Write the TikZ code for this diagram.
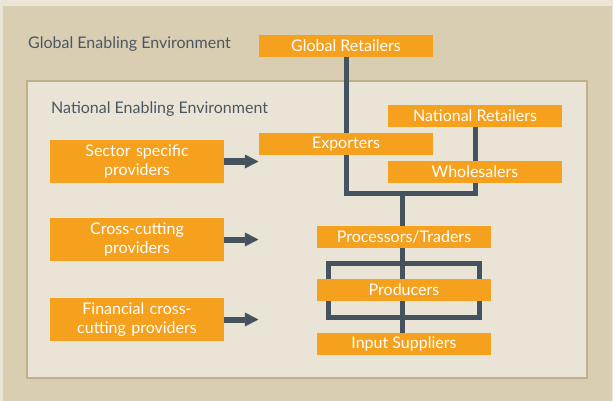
\documentclass[tikz,border=0pt]{standalone}
\usepackage{fontspec}
\setmainfont{Lato}
\usetikzlibrary{arrows.meta,backgrounds}
\definecolor{vcorange}{HTML}{F6A11E}
\definecolor{vclink}{HTML}{44535E}
\definecolor{vctext}{HTML}{4B5761}
\definecolor{vcpage}{HTML}{EBE5D6}
\definecolor{vcglobal}{HTML}{D9CDB2}
\definecolor{vcnational}{HTML}{EAE4D6}
\definecolor{vcrim}{HTML}{BFB08C}
\begin{document}
\begin{tikzpicture}[x=1pt,y=-1pt,
  box/.style={fill=vcorange, text=white, minimum width=174pt, minimum height=22pt, inner sep=0pt, font=\fontsize{16}{19}\selectfont},
  provider/.style={box, minimum height=43pt, text width=166pt, align=center},
  link/.style={draw=vclink, line width=5pt, line join=miter},
  feed/.style={draw=vclink, line width=6pt, -{Triangle[length=14pt,width=13pt]}},
  envlabel/.style={anchor=west, text=vctext, inner sep=0pt, font=\fontsize{16}{19}\selectfont}]
\useasboundingbox (0,0) rectangle (613,401);
\begin{scope}[on background layer]
\fill[vcpage] (0,0) rectangle (613,401);
\fill[vcglobal] (3,6) rectangle (612,401);
\draw[vcrim, fill=vcnational, line width=1.5pt] (27,81) rectangle (587,378);
\end{scope}
%
\node[envlabel] (glabel) at (28,44) {Global Enabling Environment};
\node[envlabel] (nlabel) at (51,109) {National Enabling Environment};
%
\node[box] (gret) at (346,46) {Global Retailers};
\node[box] (exp) at (346,144) {Exporters};
\node[box] (nret) at (475,116) {National Retailers};
\node[box] (whole) at (475,172) {Wholesalers};
\node[box] (proc) at (404,237) {Processors/Traders};
\node[box] (prod) at (404,290) {Producers};
\node[box] (inp) at (404,344) {Input Suppliers};
%
\node[provider] (sector) at (137,161.5) {Sector specific\\providers};
\node[provider] (cross) at (137,239.5) {Cross-cutting\\providers};
\node[provider] (fin) at (137,319.5) {Financial cross-\\cutting providers};
%
\coordinate (joint) at (402,193);
\begin{scope}[on background layer]
\draw[link] (gret.south) |- (joint -| nret.south) -- (nret.south);
\draw[link] (joint) -- (joint |- inp.north);
\draw[link] ([shift={(-75.5,-27)}]prod.center) rectangle ([shift={(75.5,27)}]prod.center);
\end{scope}
%
\draw[feed] (sector.east) -- (sector.east -| exp.west);
\draw[feed] (cross.east) -- (cross.east -| exp.west);
\draw[feed] (fin.east) -- (fin.east -| exp.west);
\end{tikzpicture}
\end{document}
